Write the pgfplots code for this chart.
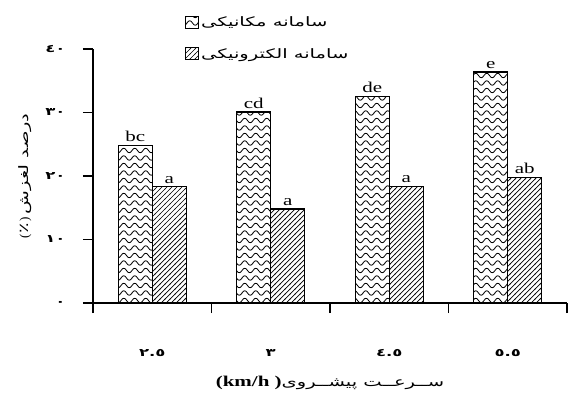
\documentclass[border=0pt]{standalone}
\usepackage{fontspec}
\setmainfont{Liberation Serif}
\newfontfamily\arabicfont[Script=Arabic]{DejaVu Sans}
\newfontfamily\arw[Script=Arabic,FakeStretch=1.5]{DejaVu Sans}
\newfontfamily\latw[FakeStretch=1.4]{Liberation Serif}
\usepackage{pgfplots}
\pgfplotsset{compat=1.18}
\usetikzlibrary{patterns}
\TeXXeTstate=1
\pgfdeclarepatternformonly{waves}{\pgfqpoint{-1pt}{-1pt}}{\pgfqpoint{12pt}{8.5pt}}{\pgfqpoint{11pt}{7.5pt}}{%
  \pgfsetlinewidth{0.8pt}%
  \pgfpathmoveto{\pgfqpoint{0pt}{3.5pt}}%
  \pgfpathcurveto{\pgfqpoint{1.8pt}{6.5pt}}{\pgfqpoint{3.7pt}{6.5pt}}{\pgfqpoint{5.5pt}{3.5pt}}%
  \pgfpathcurveto{\pgfqpoint{7.3pt}{0.5pt}}{\pgfqpoint{9.2pt}{0.5pt}}{\pgfqpoint{11pt}{3.5pt}}%
  \pgfusepath{stroke}%
}
\pgfdeclarepatternformonly{diaglines}{\pgfqpoint{-1pt}{-1pt}}{\pgfqpoint{6pt}{6pt}}{\pgfqpoint{5pt}{5pt}}{%
  \pgfsetlinewidth{0.7pt}%
  \pgfpathmoveto{\pgfqpoint{-0.5pt}{-0.5pt}}%
  \pgfpathlineto{\pgfqpoint{5.5pt}{5.5pt}}%
  \pgfusepath{stroke}%
}
\pgfplotsset{mylegend/.style={legend image code/.code={\draw[##1,line width=1pt] (0pt,-6pt) rectangle (13pt,6pt);}}}
\newcommand{\tl}[1]{\hbox{\arw\bfseries\fontsize{11}{13}\selectfont #1}}
\pgfplotstableread{
x y l
0.5 24.8 bc
1.5 30.1 cd
2.5 32.5 de
3.5 36.4 e
}\mech
\pgfplotstableread{
x y l
0.5 18.3 a
1.5 14.8 a
2.5 18.4 a
3.5 19.8 ab
}\elec
\begin{document}
\begin{tikzpicture}
\useasboundingbox (0,0) rectangle (569pt,394pt);
\begin{axis}[
  at={(93pt,91pt)}, anchor=south west,
  scale only axis, width=474pt, height=254pt,
  xmin=0, xmax=4, ymin=0, ymax=40,
  clip=false,
  axis x line=bottom, axis y line=left,
  axis line style={-, line width=1.2pt},
  every tick/.style={black, line width=1.2pt},
  tick align=outside, major tick length=10pt,
  xtick={0,1,2,3,4}, xticklabels={,,,,},
  extra x ticks={0.5,1.5,2.5,3.5},
  extra x tick labels={\tl{٢.٥},\tl{٣},\tl{٤.٥},\tl{٥.٥}},
  extra x tick style={major tick length=0pt, xticklabel style={yshift=-43pt}},
  ytick={0,10,20,30,40},
  yticklabels={\tl{٠},\tl{١٠},\tl{٢٠},\tl{٣٠},\tl{٤٠}},
  yticklabel style={xshift=-14pt},
  ybar=0pt, bar width=34pt,
  ylabel={\hbox{\fontsize{13}{15}\selectfont(\kern1pt{\arw ٪}\kern1pt) {\arw\beginR درصد لغزش\endR}}},
  ylabel style={at={(axis description cs:-0.143,0.5)}, anchor=center},
  xlabel={\hbox{\latw\fontsize{15}{17}\selectfont\bfseries (km/h\ ){\mdseries\arw\fontsize{13}{15}\selectfont\beginR ســرعــت پیشــروی\endR}}},
  xlabel style={at={(axis description cs:0.50,-0.315)}, anchor=center},
  nodes near coords, point meta=explicit symbolic,
  every node near coord/.append style={font=\latw\fontsize{15}{17}\selectfont, black, anchor=south, inner sep=3pt},
  legend style={at={(axis description cs:0.194,1.135)}, anchor=north west, draw=none, fill=none,
    font=\arw\fontsize{13}{15}\selectfont, row sep=16pt, inner sep=0pt, cells={anchor=west}},
  legend cell align=left,
]
\addplot[draw=black, line width=1.3pt, pattern=waves, pattern color=black, mylegend]
  table[x=x, y=y, meta=l] {\mech};
\addlegendentry{\beginR سامانه مکانیکی\endR}
\addplot[draw=black, line width=1.3pt, pattern=diaglines, pattern color=black, mylegend]
  table[x=x, y=y, meta=l] {\elec};
\addlegendentry{\beginR سامانه الکترونیکی\endR}
\end{axis}
\end{tikzpicture}
\end{document}
